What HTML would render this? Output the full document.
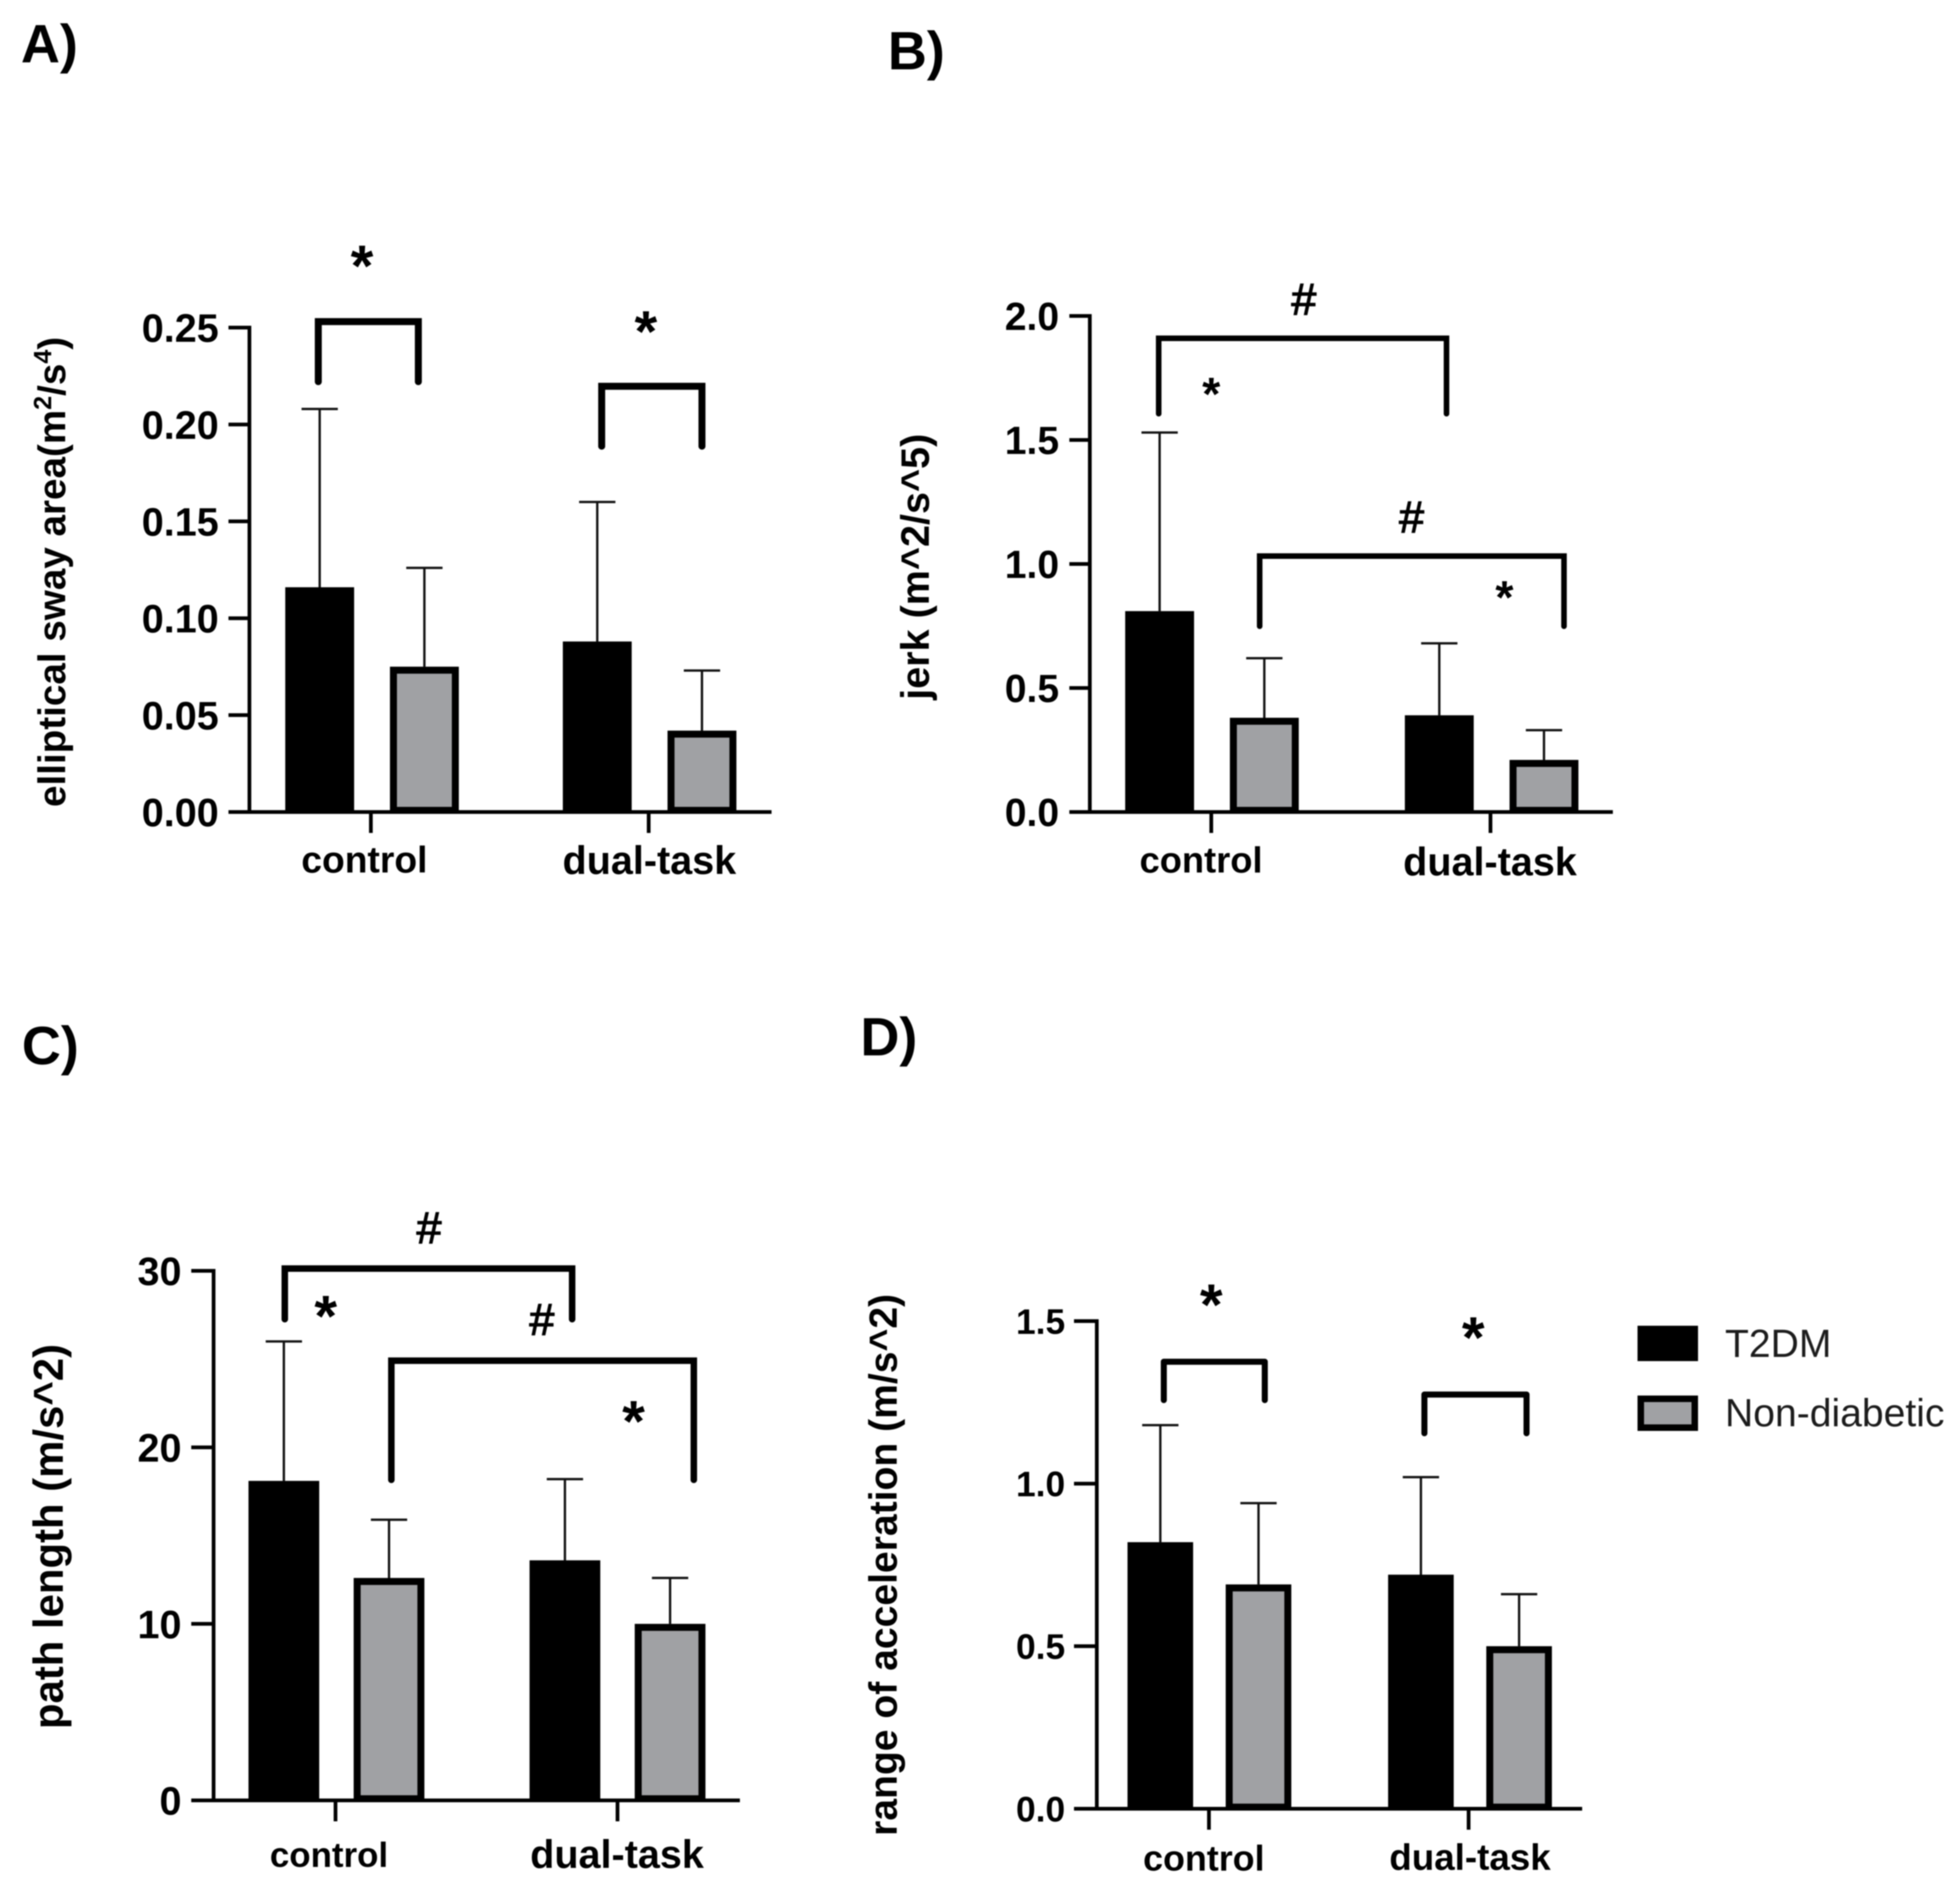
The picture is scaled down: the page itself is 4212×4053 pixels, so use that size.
<!DOCTYPE html>
<html>
<head>
<meta charset="utf-8">
<title>Balance metrics by group</title>
<style>
html,body{margin:0;padding:0;background:#fff;}
svg{display:block;filter:blur(1.2px);}
text{font-family:"Liberation Sans",sans-serif;fill:#000;}
</style>
</head>
<body>
<svg id="figure" xmlns="http://www.w3.org/2000/svg" width="4212" height="4053" viewBox="0 0 4212 4053">
<rect x="0" y="0" width="4212" height="4053" fill="#ffffff"/>
<g>
<rect x="3519" y="2849" width="130" height="76" fill="#000"/>
<rect x="3526" y="3006" width="116" height="62" fill="#a0a1a4" stroke="#000" stroke-width="14"/>
<text x="3707" y="2916" font-size="84" style="fill:#1c1c1c">T2DM</text>
<text x="3707" y="3065" font-size="84" style="fill:#1c1c1c">Non-diabetic</text>
</g>
</svg>
<script>
// Shared categories
const categories = ['control', 'dual-task'];

// Panel A: elliptical sway area
const aTicks = [0, 0.05, 0.10, 0.15, 0.20, 0.25];
const aTickLabels = ['0.00', '0.05', '0.10', '0.15', '0.20', '0.25'];
const aT2dmMean = [0.116, 0.088];
const aT2dmUpper = [0.208, 0.160];
const aNonDiabeticMean = [0.075, 0.042];
const aNonDiabeticUpper = [0.126, 0.073];

// Panel B: jerk
const bTicks = [0, 0.5, 1.0, 1.5, 2.0];
const bTickLabels = ['0.0', '0.5', '1.0', '1.5', '2.0'];
const bT2dmMean = [0.81, 0.39];
const bT2dmUpper = [1.53, 0.68];
const bNonDiabeticMean = [0.38, 0.21];
const bNonDiabeticUpper = [0.62, 0.33];

// Panel C: path length
const cTicks = [0, 10, 20, 30];
const cTickLabels = ['0', '10', '20', '30'];
const cT2dmMean = [18.1, 13.6];
const cT2dmUpper = [26.0, 18.2];
const cNonDiabeticMean = [12.6, 10.0];
const cNonDiabeticUpper = [15.9, 12.6];

// Panel D: range of acceleration
const dTicks = [0, 0.5, 1.0, 1.5];
const dTickLabels = ['0.0', '0.5', '1.0', '1.5'];
const dT2dmMean = [0.82, 0.72];
const dT2dmUpper = [1.18, 1.02];
const dNonDiabeticMean = [0.69, 0.50];
const dNonDiabeticUpper = [0.94, 0.66];

const svg = document.getElementById('figure');
const NS = 'http://www.w3.org/2000/svg';

function make(parent, tag, attrs, name) {
  const el = document.createElementNS(NS, tag);
  for (const k in attrs) el.setAttribute(k, attrs[k]);
  
  
  parent.appendChild(el);
  return el;
}

function drawPanel(p) {
  const g = make(svg, 'g', {}, 'panel-' + p.id);
  const yMax = p.ticks[p.ticks.length - 1];
  const yScale = v => p.y0 - (p.y0 - p.yTop) * v / yMax;
  // bar index: 0=control/T2DM 1=control/non 2=dual/T2DM 3=dual/non
  const barX = idx => p.first + Math.floor(idx / 2) * p.step + (idx % 2) * p.sep;

  const lab = make(g, 'text', {x: p.labelX, y: p.labelY, 'font-size': 116, 'font-weight': 'bold'}, 'panel-label-' + p.id);
  lab.textContent = p.id + ')';

  // series
  const series = [
    {name: 't2dm', mean: p.t2dm, upper: p.t2dmUpper, off: 0},
    {name: 'non-diabetic', mean: p.non, upper: p.nonUpper, off: 1}
  ];
  series.forEach(s => {
    categories.forEach((cat, i) => {
      const cx = barX(i * 2 + s.off);
      const yV = yScale(s.mean[i]);
      const yU = yScale(s.upper[i]);
      make(g, 'line', {x1: cx, x2: cx, y1: yV, y2: yU, stroke: '#111', 'stroke-width': 5}, 'error-line-' + s.name + '-' + cat);
      make(g, 'line', {x1: cx - 39, x2: cx + 39, y1: yU, y2: yU, stroke: '#111', 'stroke-width': 5}, 'error-cap-' + s.name + '-' + cat);
      if (s.off === 0) {
        make(g, 'rect', {x: cx - p.barW / 2, y: yV, width: p.barW, height: p.y0 - yV, fill: '#000'}, 'bar-' + s.name + '-' + cat);
      } else {
        make(g, 'rect', {x: cx - p.barW / 2 + 7.5, y: yV + 7.5, width: p.barW - 15, height: p.y0 - yV - 11, fill: '#a0a1a4', stroke: '#000', 'stroke-width': 15}, 'bar-' + s.name + '-' + cat);
      }
    });
  });

  // axes
  make(g, 'line', {x1: p.axisX, x2: p.axisX, y1: p.yTop - 4, y2: p.y0 + 4, stroke: '#000', 'stroke-width': 8}, 'y-axis-line');
  make(g, 'line', {x1: p.tickLeft, x2: p.axisRight, y1: p.y0, y2: p.y0, stroke: '#000', 'stroke-width': 8}, 'x-axis-line');
  p.ticks.forEach((t, i) => {
    const y = yScale(t);
    make(g, 'line', {x1: p.tickLeft, x2: p.axisX, y1: y, y2: y, stroke: '#000', 'stroke-width': 8}, 'y-tick');
    const tx = make(g, 'text', {x: p.tickRight, y: y + p.tickFont * 0.36, 'font-size': p.tickFont, 'font-weight': 'bold', 'text-anchor': 'end'}, 'y-tick-label');
    tx.textContent = p.tickLabels[i];
  });
  categories.forEach((cat, i) => {
    const x = p.tick0 + i * p.tickStep;
    make(g, 'line', {x1: x, x2: x, y1: p.y0, y2: p.y0 + 45, stroke: '#000', 'stroke-width': 8}, 'x-tick');
    const tx = make(g, 'text', {x: x + p.catDx[i], y: p.catY[i], 'font-size': p.catFont[i], 'font-weight': 'bold', 'text-anchor': 'middle'}, 'x-category-label');
    tx.textContent = cat;
  });

  // y title
  const title = make(g, 'text', {
    transform: 'translate(' + p.titleX + ',' + p.titleMid + ') rotate(-90)',
    'font-size': p.titleFont, 'font-weight': 'bold', 'text-anchor': 'middle'
  }, 'y-axis-title');
  if (p.titleParts) {
    // each part: [text, isSuperscript]
    let wasSup = false;
    p.titleParts.forEach(part => {
      const ts = document.createElementNS(NS, 'tspan');
      if (part[1]) {
        ts.setAttribute('font-size', p.titleFont * 0.65);
        ts.setAttribute('dy', -30);
      } else if (wasSup) {
        ts.setAttribute('dy', 30);
      }
      wasSup = part[1];
      ts.textContent = part[0];
      title.appendChild(ts);
    });
  } else {
    title.textContent = p.title;
  }

  // significance brackets: [barFrom, dxFrom, barTo, dxTo, topValue, bottomValue]
  p.brackets.forEach(b => {
    const x1 = barX(b[0]) + b[1], x2 = barX(b[2]) + b[3];
    const yT = yScale(b[4]), yB = yScale(b[5]);
    make(g, 'path', {
      d: 'M' + x1 + ' ' + yB + 'V' + yT + 'H' + x2 + 'V' + yB,
      fill: 'none', stroke: '#000', 'stroke-width': p.bracketW, 'stroke-linecap': 'round', 'stroke-linejoin': p.bracketJoin
    }, 'significance-bracket');
  });

  // significance marks: [symbol, bar, dx, value]
  p.marks.forEach(m => {
    const isStar = m[0] === '*';
    const fs = isStar ? p.starFont : p.hashFont;
    const shift = isStar ? fs * 0.46 : fs * 0.35;
    const t = make(g, 'text', {
      x: barX(m[1]) + m[2], y: yScale(m[3]) + shift, 'font-size': fs,
      'font-weight': isStar ? 'bold' : 'normal', 'text-anchor': 'middle',
      stroke: '#000', 'stroke-width': isStar ? 0 : 2.5
    }, isStar ? 'significance-star' : 'significance-hash');
    t.textContent = m[0];
  });
}

drawPanel({
  id: 'A', labelX: 45, labelY: 134,
  ticks: aTicks, tickLabels: aTickLabels, t2dm: aT2dmMean, t2dmUpper: aT2dmUpper, non: aNonDiabeticMean, nonUpper: aNonDiabeticUpper,
  axisX: 536, tickLeft: 491, axisRight: 1658, y0: 1745, yTop: 704, tickRight: 470, tickFont: 85,
  first: 687, step: 596.5, sep: 225, barW: 148, tick0: 797, tickStep: 597,
  catDx: [-14, 1.5], catY: [1875, 1878], catFont: [80, 85],
  titleX: 140, titleMid: 1229, titleFont: 83,
  titleParts: [['elliptical sway area(m', false], ['2', true], ['/s', false], ['4', true], [')', false]],
  bracketW: 15, bracketJoin: 'miter', starFont: 125, hashFont: 100,
  brackets: [[0, -3, 1, -13, 0.2531, 0.2221], [2, 9.5, 3, 0, 0.2197, 0.1888]],
  marks: [['*', 0, 91, 0.2853], ['*', 2, 104.5, 0.2514]]
});

drawPanel({
  id: 'B', labelX: 1908, labelY: 149,
  ticks: bTicks, tickLabels: bTickLabels, t2dm: bT2dmMean, t2dmUpper: bT2dmUpper, non: bNonDiabeticMean, nonUpper: bNonDiabeticUpper,
  axisX: 2342, tickLeft: 2298, axisRight: 3466, y0: 1745, yTop: 679, tickRight: 2276, tickFont: 84,
  first: 2492, step: 601, sep: 225, barW: 148, tick0: 2603, tickStep: 600,
  catDx: [-22, -1], catY: [1875, 1881], catFont: [78, 85],
  titleX: 1996, titleMid: 1218, titleFont: 85, title: 'jerk (m^2/s^5)',
  bracketW: 12, bracketJoin: 'miter', starFont: 100, hashFont: 96,
  brackets: [[0, -2, 2, 15.5, 1.910, 1.606], [1, -10, 3, 43, 1.032, 0.749]],
  marks: [['#', 1, 85, 2.069], ['#', 2, -59.5, 1.191], ['*', 0, 111, 1.707], ['*', 2, 140, 0.887]]
});

drawPanel({
  id: 'C', labelX: 47, labelY: 2287,
  ticks: cTicks, tickLabels: cTickLabels, t2dm: cT2dmMean, t2dmUpper: cT2dmUpper, non: cNonDiabeticMean, nonUpper: cNonDiabeticUpper,
  axisX: 459, tickLeft: 411, axisRight: 1590, y0: 3869, yTop: 2731, tickRight: 390, tickFont: 85,
  first: 610, step: 604, sep: 226, barW: 152, tick0: 721, tickStep: 606,
  catDx: [-14, -1], catY: [4012, 4014], catFont: [75, 85],
  titleX: 135, titleMid: 3302, titleFont: 90, title: 'path length (m/s^2)',
  bracketW: 14, bracketJoin: 'miter', starFont: 125, hashFont: 96,
  brackets: [[0, 2, 2, 15.5, 30.13, 27.26], [1, 5, 3, 51, 24.91, 18.16]],
  marks: [['#', 1, 86, 32.45], ['#', 2, -49.5, 27.26], ['*', 0, 90, 27.81], ['*', 2, 147.5, 21.86]]
});

drawPanel({
  id: 'D', labelX: 1849, labelY: 2268,
  ticks: dTicks, tickLabels: dTickLabels, t2dm: dT2dmMean, t2dmUpper: dT2dmUpper, non: dNonDiabeticMean, nonUpper: dNonDiabeticUpper,
  axisX: 2357, tickLeft: 2308, axisRight: 3400, y0: 3887, yTop: 2839, tickRight: 2289, tickFont: 76,
  first: 2493.5, step: 560, sep: 211, barW: 141, tick0: 2598, tickStep: 558,
  catDx: [-11, 3], catY: [4020, 4018], catFont: [77, 79],
  titleX: 1927, titleMid: 3363, titleFont: 84, title: 'range of acceleration (m/s^2)',
  bracketW: 13, bracketJoin: 'round', starFont: 125, hashFont: 96,
  brackets: [[0, 7.5, 1, 13.5, 1.375, 1.257], [2, 7.5, 3, 16, 1.274, 1.155]],
  marks: [['*', 0, 109.5, 1.571], ['*', 2, 112.5, 1.470]]
});
</script>
</body>
</html>
